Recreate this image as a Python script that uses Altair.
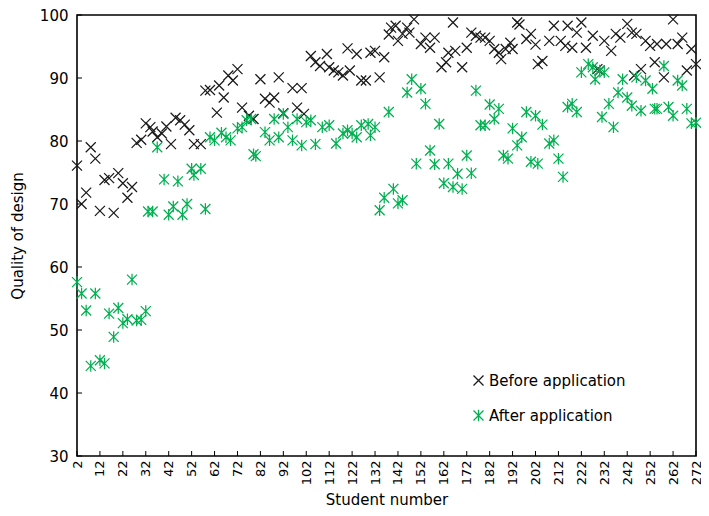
import altair as alt
import pandas as pd

# ---- data ----
series_names = ["Before application", "After application"]

before_x = [2, 4, 6, 8, 10, 12, 14, 16, 18, 20, 22, 24, 26, 28, 30, 32, 34, 35, 37, 39,
            41, 43, 45, 47, 49, 51, 53, 56, 58, 60, 63, 64, 66, 68, 70, 72, 74, 77, 79, 82,
            84, 86, 88, 90, 92, 96, 98, 100, 101, 104, 106, 108, 111, 112, 114, 116, 118, 120, 121, 124,
            126, 128, 130, 132, 134, 136, 138, 139, 141, 142, 144, 146, 147, 149, 152, 154, 156, 158, 161, 163,
            164, 166, 167, 170, 172, 174, 176, 178, 180, 182, 184, 186, 187, 189, 191, 192, 194, 195, 198, 200,
            202, 203, 205, 208, 210, 213, 215, 216, 218, 220, 222, 224, 227, 229, 230, 232, 235, 237, 239, 242,
            244, 245, 246, 248, 250, 252, 254, 255, 258, 259, 262, 264, 266, 268, 270, 272]
before_y = [76.1, 70.0, 71.8, 79.0, 77.2, 68.9, 73.8, 74.1, 68.6, 74.9, 73.3, 71.0, 72.7, 79.7, 80.2, 82.8, 82.2, 81.5, 80.6, 81.2,
            82.3, 79.5, 83.7, 83.3, 82.6, 81.7, 79.5, 79.5, 88.0, 88.1, 84.5, 88.8, 86.9, 90.4, 89.6, 91.4, 85.3, 84.0, 83.5, 89.8,
            86.7, 86.1, 86.9, 90.1, 84.4, 88.4, 85.3, 88.4, 84.3, 93.5, 92.5, 91.9, 93.8, 91.7, 91.2, 90.9, 90.4, 94.7, 91.2, 93.8,
            89.6, 89.6, 94.0, 94.3, 90.1, 93.3, 96.9, 98.0, 98.3, 95.9, 97.0, 98.0, 97.2, 99.3, 95.4, 96.4, 94.8, 96.4, 91.7, 92.5,
            94.0, 98.8, 94.3, 91.7, 94.8, 97.2, 96.7, 96.4, 96.4, 95.9, 94.6, 94.0, 93.0, 94.6, 95.6, 94.6, 98.8, 98.5, 96.2, 97.0,
            95.3, 92.2, 92.7, 95.9, 98.3, 95.9, 95.1, 98.3, 94.8, 97.2, 98.8, 94.8, 96.7, 91.4, 91.2, 95.9, 94.3, 97.0, 96.4, 98.6,
            97.2, 90.4, 97.0, 91.4, 95.9, 95.1, 92.5, 95.4, 90.1, 95.4, 99.3, 95.4, 96.4, 91.2, 94.6, 92.2]

after_x = [2, 4, 6, 8, 10, 12, 14, 16, 18, 20, 22, 24, 26, 28, 30, 32, 33, 35, 37, 40,
           42, 44, 46, 48, 50, 52, 53, 56, 58, 60, 62, 65, 67, 69, 72, 74, 76, 78, 79, 80,
           84, 86, 88, 90, 92, 94, 96, 98, 100, 102, 104, 106, 109, 112, 115, 118, 120, 122, 124, 126,
           129, 130, 132, 134, 136, 138, 140, 142, 144, 146, 148, 150, 152, 154, 156, 158, 160, 162, 164, 166,
           168, 170, 172, 174, 176, 178, 180, 182, 184, 186, 188, 190, 192, 194, 196, 198, 200, 202, 203, 205,
           208, 210, 212, 214, 216, 218, 220, 222, 225, 227, 228, 230, 231, 232, 234, 236, 238, 240, 242, 244,
           246, 248, 250, 253, 254, 255, 258, 260, 262, 264, 266, 268, 270, 272]
after_y = [57.6, 55.8, 53.1, 44.3, 55.8, 45.2, 44.7, 52.6, 48.9, 53.5, 51.1, 51.7, 58.0, 51.5, 51.6, 53.0, 68.8, 68.8, 79.0, 73.9,
           68.3, 69.6, 73.6, 68.3, 70.0, 75.6, 74.6, 75.6, 69.2, 80.6, 80.1, 81.3, 80.6, 80.1, 82.0, 82.2, 83.3, 83.5, 77.9, 77.6,
           81.4, 80.1, 83.5, 80.6, 84.3, 82.2, 80.1, 83.5, 79.3, 83.0, 83.3, 79.5, 82.2, 82.5, 79.6, 81.2, 81.7, 81.2, 80.6, 82.5,
           82.7, 80.9, 82.2, 69.0, 71.0, 84.6, 72.4, 70.1, 70.6, 87.7, 89.8, 76.4, 88.3, 85.9, 78.5, 76.3, 82.7, 73.3, 76.4, 72.7,
           74.8, 72.4, 77.7, 74.9, 88.0, 82.5, 82.5, 85.8, 83.5, 85.1, 77.7, 77.2, 82.0, 79.3, 80.6, 84.6, 76.7, 84.0, 76.4, 82.6,
           79.6, 80.1, 77.2, 74.3, 85.4, 85.9, 84.6, 90.9, 92.2, 91.7, 89.8, 91.2, 83.8, 90.9, 85.9, 82.2, 87.7, 89.8, 86.9, 85.6,
           90.1, 84.8, 89.6, 88.3, 85.1, 85.1, 91.9, 85.4, 84.0, 89.6, 88.8, 85.1, 82.8, 82.9]

x_ticks = list(range(2, 273, 10))
y_ticks = [30, 40, 50, 60, 70, 80, 90, 100]

# ---- styles ----
colors = ["#1a1a1a", "#00B050"]
shapes = ["M-1,-1L1,1M-1,1L1,-1",
          "M-1,-1L1,1M-1,1L1,-1M0,-1.15L0,1.15"]
FONT = "DejaVu Sans"
W, H = 619, 441

df = pd.concat([
    pd.DataFrame({"student": before_x, "quality": before_y, "series": series_names[0], "k": 0}),
    pd.DataFrame({"student": after_x, "quality": after_y, "series": series_names[1], "k": 1}),
], ignore_index=True)

xscale = alt.Scale(domain=[2, 272], nice=False, zero=False)
yscale = alt.Scale(domain=[30, 100], nice=False, zero=False)

ax_x = alt.Axis(values=x_ticks, labelAngle=270, title="Student number",
                tickSize=0, labelPadding=4, titlePadding=8, domain=False, grid=False,
                labelFontSize=13, titleFontSize=15, labelFont=FONT, titleFont=FONT,
                titleFontWeight="normal", labelColor="black", titleColor="black",
                labelOverlap=False, labelFlush=False)
ax_y = alt.Axis(values=y_ticks, title="Quality of design",
                tickSize=0, labelPadding=9, titlePadding=14, domain=False, grid=False,
                labelFontSize=15, titleFontSize=15, labelFont=FONT, titleFont=FONT,
                titleFontWeight="normal", labelColor="black", titleColor="black",
                labelOverlap=False, labelFlush=False)

legend = alt.Legend(title=None, orient="none", legendX=394, legendY=358,
                    labelFont=FONT, labelFontSize=15, labelColor="black",
                    symbolSize=100, symbolStrokeWidth=1.3, rowPadding=18,
                    labelOffset=3, padding=0)

points = alt.Chart(df).mark_point(filled=False, size=100, strokeWidth=1.25, opacity=1).encode(
    x=alt.X("student:Q", scale=xscale, axis=ax_x),
    y=alt.Y("quality:Q", scale=yscale, axis=ax_y),
    color=alt.Color("series:N", scale=alt.Scale(domain=series_names, range=colors), legend=legend),
    shape=alt.Shape("series:N", scale=alt.Scale(domain=series_names, range=shapes), legend=legend),
    order=alt.Order("k:Q"),
)

xt = alt.Chart(pd.DataFrame({"student": x_ticks})).mark_rule(color="black", strokeWidth=1).encode(
    x=alt.X("student:Q", scale=xscale, axis=ax_x), y=alt.value(H), y2=alt.value(H - 5))
yt = alt.Chart(pd.DataFrame({"quality": y_ticks})).mark_rule(color="black", strokeWidth=1).encode(
    y=alt.Y("quality:Q", scale=yscale, axis=ax_y), x=alt.value(0), x2=alt.value(5))

chart = alt.layer(points, xt, yt).properties(
    width=W, height=H,
    autosize=alt.AutoSizeParams(type="none"),
    padding={"left": 69, "top": 7, "right": 5, "bottom": 52},
    background="white",
).configure_view(stroke="black", strokeWidth=1.6)

chart.save("out.html", embed_options={"renderer": "svg", "actions": False})
